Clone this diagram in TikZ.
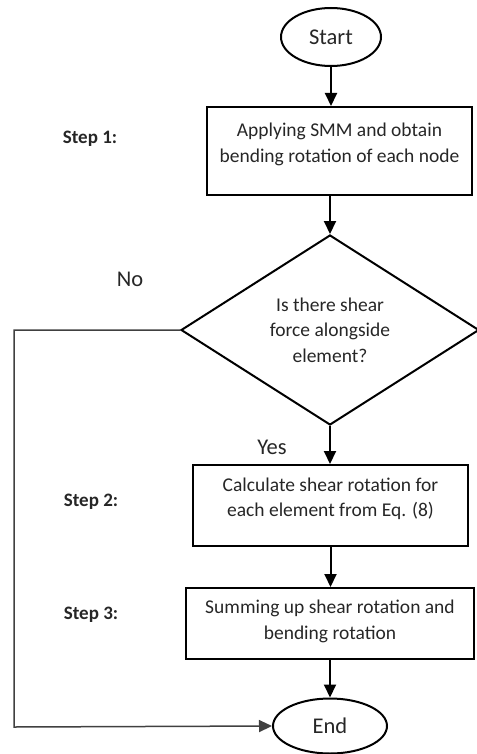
\documentclass[tikz,border=0pt]{standalone}
\usepackage{fontspec}
\setmainfont{Carlito}
\usetikzlibrary{shapes.geometric,arrows.meta}
\definecolor{txt}{HTML}{262626}
\tikzset{
  base/.style={draw=black, line width=2pt, text=txt, inner sep=0pt},
  procbox/.style={base, rectangle},
  termnode/.style={base, ellipse, font=\fontsize{22.5}{27}\selectfont},
  decide/.style={base, diamond, font=\fontsize{19.5}{25.5}\selectfont, align=center},
  boxtext/.style={font=\fontsize{19.5}{25.5}\selectfont, align=center, text=txt},
  steplabel/.style={font=\bfseries\fontsize{19}{23}\selectfont, text=txt},
  answer/.style={font=\fontsize{22.5}{27}\selectfont, text=txt},
  flow/.style={line width=2pt, -{Triangle[length=13pt,width=12pt]}},
  noline/.style={draw=black!75, line width=1.5pt, -{Triangle[length=13pt,width=12pt]}}
}
\begin{document}
\begin{tikzpicture}[x=1pt,y=-1pt]
\useasboundingbox (0,0) rectangle (476,754);

\node[termnode, minimum width=100pt, minimum height=58pt] (start) at (331,37) {Start};

\node[procbox, minimum width=265pt, minimum height=88pt,
      label={[boxtext, yshift=6.5pt]center:Applying SMM and obtain\\bending rotation of each node}] (b1) at (339.5,151) {};

\node[decide, minimum width=298pt, minimum height=190pt] (dec) at (330,330) {Is there shear\\force alongside\\element?};

\node[procbox, minimum width=275pt, minimum height=81pt,
      label={[boxtext, yshift=6.5pt]center:Calculate shear rotation for\\each element from Eq. (8)}] (b2) at (330.5,505.5) {};

\node[procbox, minimum width=288pt, minimum height=71pt,
      label={[boxtext, yshift=2pt]center:Summing up shear rotation and\\bending rotation}] (b3) at (330,623.5) {};

\node[termnode, minimum width=114pt, minimum height=55pt] (end) at (330,726) {End};

\node[steplabel] (s1) at (90,139) {Step 1:};
\node[steplabel] (s2) at (91,502) {Step 2:};
\node[steplabel] (s3) at (91,615) {Step 3:};

\node[answer] (no) at (130,279) {No};
\node[answer] (yes) at (272,447) {Yes};

\coordinate (c1) at (14,330);
\coordinate (c2) at (14,727);

\draw[flow] (start.south) -- (start.south |- b1.north);
\draw[flow] (dec.north |- b1.south) -- (dec.north);
\draw[flow] (dec.south) -- (dec.south |- b2.north);
\draw[flow] (b2.south) -- (b2.south |- b3.north);
\draw[flow] (b3.south) -- (end.north);
\draw[noline] (dec.west) -- (c1) -- (c2) -- (end.west);
\end{tikzpicture}
\end{document}
